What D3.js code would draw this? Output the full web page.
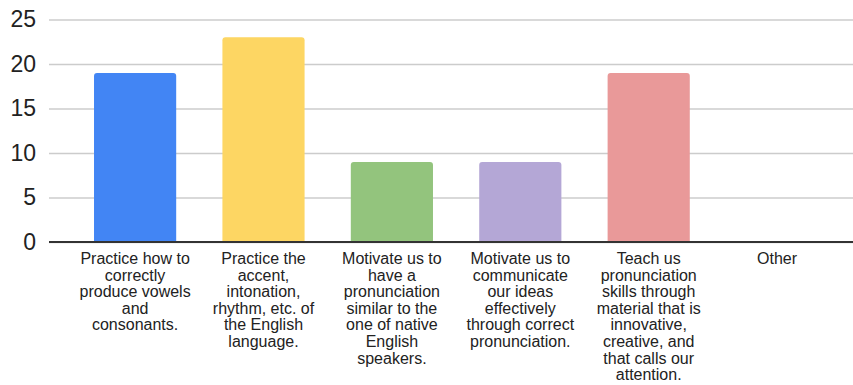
<!DOCTYPE html>
<html>
<head>
<meta charset="utf-8">
<script src="https://cdn.jsdelivr.net/npm/d3@7"></script>
<style>
  html, body { margin: 0; padding: 0; background: #fff; }
  svg { display: block; }
  text { font-family: Arial, "Liberation Sans", sans-serif; fill: #222; }
</style>
</head>
<body>
<svg id="chart" width="853" height="385"></svg>
<script>
// Survey answers: what the pronunciation activities should do
const categories = [
  ["Practice how to", "correctly", "produce vowels", "and", "consonants."],
  ["Practice the", "accent,", "intonation,", "rhythm, etc. of", "the English", "language."],
  ["Motivate us to", "have a", "pronunciation", "similar to the", "one of native", "English", "speakers."],
  ["Motivate us to", "communicate", "our ideas", "effectively", "through correct", "pronunciation."],
  ["Teach us", "pronunciation", "skills through", "material that is", "innovative,", "creative, and", "that calls our", "attention."],
  ["Other"]
];
const values = [19, 23, 9, 9, 19, 0];
const barColors = ["#4285f4", "#fdd663", "#93c47d", "#b4a7d6", "#e99999", "#ff6d01"];
const yTicks = [0, 5, 10, 15, 20, 25];

const svg = d3.select("#chart");
const keys = categories.map((c, i) => i);

const x = d3.scaleBand()
  .domain(keys)
  .range([70.9, 841.3])
  .paddingInner(0.36)
  .paddingOuter(0.18);

const y = d3.scaleLinear()
  .domain([0, 25])
  .range([242, 19.5]);

// Horizontal gridlines with tick labels on the left
const yAxis = d3.axisLeft(y)
  .tickValues(yTicks)
  .tickSize(-(853 - 49))
  .tickPadding(13)
  .tickFormat(d3.format("d"));

const gy = svg.append("g")
  .attr("transform", "translate(49,0)")
  .call(yAxis);
gy.select(".domain").remove();
gy.selectAll(".tick line")
  .attr("stroke", "#cccccc")
  .attr("stroke-width", 1.6);
gy.selectAll(".tick text")
  .attr("font-size", 23)
  .attr("fill", "#222")
  .attr("font-family", "Arial, 'Liberation Sans', sans-serif");

// Bars with slightly rounded top corners
function barPath(x0, w, yTop, yBase, r) {
  const h = yBase - yTop;
  if (h <= 0) return "";
  r = Math.min(r, h, w / 2);
  return `M${x0},${yBase}V${yTop + r}Q${x0},${yTop} ${x0 + r},${yTop}` +
         `H${x0 + w - r}Q${x0 + w},${yTop} ${x0 + w},${yTop + r}V${yBase}Z`;
}

svg.append("g")
  .selectAll("path")
  .data(values)
  .join("path")
  .attr("d", (d, i) => barPath(x(i), x.bandwidth(), y(d), y(0), 3))
  .attr("fill", (d, i) => barColors[i]);

// Baseline
svg.append("line")
  .attr("x1", 49).attr("x2", 853)
  .attr("y1", y(0)).attr("y2", y(0))
  .attr("stroke", "#333")
  .attr("stroke-width", 2);

// Wrapped category labels under each bar
const lineHeight = 16.6;
const labels = svg.append("g")
  .selectAll("text")
  .data(categories)
  .join("text")
  .attr("text-anchor", "middle")
  .attr("font-size", 16)
  .attr("fill", "#222")
  .attr("x", (d, i) => x(i) + x.bandwidth() / 2)
  .attr("y", 264);

labels.each(function (lines, i) {
  const t = d3.select(this);
  lines.forEach((ln, k) => {
    t.append("tspan")
      .attr("x", x(i) + x.bandwidth() / 2)
      .attr("dy", k === 0 ? 0 : lineHeight)
      .text(ln);
  });
});
</script>
</body>
</html>
